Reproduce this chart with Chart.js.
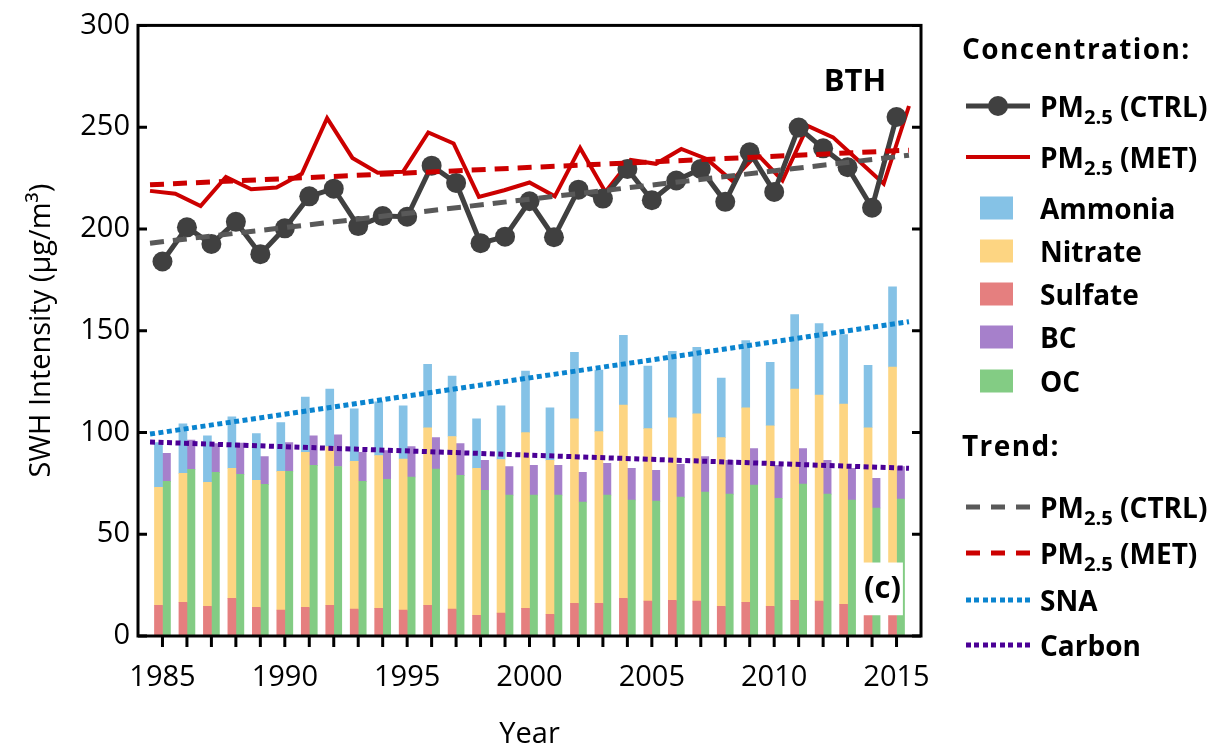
<!DOCTYPE html>
<html>
<head>
<meta charset="utf-8">
<script src="https://cdn.jsdelivr.net/npm/chart.js@4.4.1/dist/chart.umd.min.js"></script>
<style>
  html, body { margin: 0; padding: 0; background: #fff; }
  #wrap { position: relative; width: 1226px; height: 752px; overflow: hidden; }
  #c { position: absolute; left: 0; top: 0; }
  #legend { position: absolute; left: 0; top: 0; width: 1226px; height: 752px; pointer-events: none;
            font-family: 'Open Sans', sans-serif; font-weight: 700; font-size: 28px; color: #000; }
  #legend .t { position: absolute; transform: translateY(-50%); white-space: nowrap; line-height: 1; }
  #legend .h { letter-spacing: 1.4px; }
  #legend .s { position: absolute; transform: translateY(-50%); }
  #legend sub { font-size: 0.72em; vertical-align: -0.35em; line-height: 0; }
</style>
</head>
<body>
<div id="wrap">
  <canvas id="c" width="1226" height="752"></canvas>
  <div id="legend"></div>
</div>
<script>
// ---- datos
const years = [1985,1986,1987,1988,1989,1990,1991,1992,1993,1994,1995,1996,1997,1998,1999,
               2000,2001,2002,2003,2004,2005,2006,2007,2008,2009,2010,2011,2012,2013,2014,2015];

const pmCtrl = [184.0,200.8,192.6,203.5,187.6,200.3,216.0,219.8,201.4,206.3,206.0,231.1,222.6,193.0,196.2,
                213.6,195.9,219.3,214.9,229.5,214.1,223.8,229.5,213.3,237.7,218.2,249.8,239.6,230.3,210.4,255.0];
const pmMet  = [218.7,217.3,211.2,225.5,219.5,220.3,227.1,254.4,234.9,227.6,228.1,247.4,242.0,215.7,219.0,
                222.8,216.0,239.8,218.2,233.9,232.0,239.3,234.4,223.8,236.8,223.8,250.6,245.0,233.6,222.2,260.4];

const sulfate = [15.1,16.6,14.6,18.5,14.1,12.7,14.1,15.1,13.2,13.6,12.7,15.1,13.2,10.2,11.2,
                 13.6,10.7,16.1,16.1,18.5,17.1,17.5,17.1,14.6,16.6,14.6,17.5,17.1,15.6,12.0,12.5];
const nitrate = [58.0,63.3,60.9,63.9,62.4,68.2,76.1,78.0,72.6,75.1,74.2,87.2,84.8,72.2,75.5,
                 86.3,75.6,90.6,84.3,95.0,84.8,89.7,92.1,82.9,95.5,88.7,103.8,101.3,98.4,90.3,119.6];
const ammonia = [21.9,24.4,22.9,25.3,22.9,23.9,27.2,28.2,25.8,26.3,26.2,31.2,29.7,24.3,26.4,
                 30.2,25.8,32.7,30.2,34.2,30.7,32.7,32.6,29.2,33.1,31.2,36.6,35.1,34.1,30.7,39.4];
const oc      = [76.0,81.9,80.4,79.4,74.5,80.9,83.8,83.3,76.0,77.0,78.1,82.0,78.9,71.6,69.2,
                 69.2,69.2,65.8,69.2,66.8,66.3,68.2,70.7,69.7,74.1,67.7,74.6,69.7,66.8,62.9,67.3];
const bc      = [13.7,14.4,14.1,15.4,13.7,14.1,14.6,15.6,14.2,14.1,15.0,15.5,15.6,14.7,14.1,
                 14.6,14.6,14.6,15.6,15.6,15.1,16.1,17.5,16.6,18.0,16.1,17.5,16.6,15.6,14.6,16.0];

// tendencias (extremos)
const trendYears  = [1985, 2015];
const trendCtrl   = [193.0, 236.2];
const trendMet    = [221.7, 238.7];
const trendSna    = [99.2, 154.4];
const trendCarbon = [95.3, 82.4];

const FONT = "'Open Sans', sans-serif";
const xy = (xs, ys) => xs.map((x, i) => ({ x, y: ys[i] }));

function barDs(label, data, color, stack){
  return { type: 'bar', label, data: xy(years, data), backgroundColor: color, stack,
           xAxisID: 'x', yAxisID: 'y', order: 10, borderWidth: 0, barThickness: 8 };
}
function lineDs(label, xs, ys, color, extra){
  return Object.assign({ type: 'line', label, data: xy(xs, ys), borderColor: color, backgroundColor: color,
           borderWidth: 5, pointRadius: 0, tension: 0, fill: false, xAxisID: 'x2', yAxisID: 'y2' }, extra);
}

// marco, ticks y etiquetas
const framePlugin = {
  id: 'frame',
  afterDraw(chart){
    const { ctx, chartArea: a, scales: { x, y } } = chart;
    ctx.save();
    // caja (c)
    const bx0 = x.getPixelForValue(2013.6), bx1 = x.getPixelForValue(2015.26);
    const by0 = y.getPixelForValue(36.1),   by1 = y.getPixelForValue(10.2);
    ctx.fillStyle = '#fff';
    ctx.fillRect(bx0, by0, bx1 - bx0, by1 - by0);
    ctx.fillStyle = '#000';
    ctx.textAlign = 'center'; ctx.textBaseline = 'middle';
    ctx.font = `700 31px ${FONT}`;
    ctx.fillText('(c)', (bx0 + bx1) / 2, (by0 + by1) / 2);
    // BTH
    ctx.fillText('BTH', x.getPixelForValue(2013.3), y.getPixelForValue(272));
    // marco
    ctx.strokeStyle = '#000'; ctx.lineWidth = 3;
    ctx.strokeRect(a.left, a.top, a.right - a.left, a.bottom - a.top);
    ctx.beginPath();
    y.ticks.forEach(t => {
      const py = y.getPixelForValue(t.value);
      ctx.moveTo(a.left, py);  ctx.lineTo(a.left + 9, py);
      ctx.moveTo(a.right, py); ctx.lineTo(a.right - 9, py);
    });
    years.forEach(yr => {
      const px = x.getPixelForValue(yr);
      ctx.moveTo(px, a.bottom); ctx.lineTo(px, a.bottom + 11);
    });
    ctx.stroke();
    ctx.restore();
  }
};

new Chart(document.getElementById('c'), {
  type: 'bar',
  data: {
    datasets: [
      lineDs('PM2.5 (CTRL) trend', trendYears, trendCtrl, '#595959', { borderDash: [14, 9], order: 3 }),
      lineDs('PM2.5 (MET) trend', trendYears, trendMet, '#cc0000', { borderDash: [14, 9], order: 2 }),
      lineDs('SNA', trendYears, trendSna, '#0a84cf', { borderDash: [5, 3.5], order: 1 }),
      lineDs('Carbon', trendYears, trendCarbon, '#4b0096', { borderDash: [5, 3.5], order: 0 }),
      lineDs('PM2.5 (MET)', years, pmMet, '#cc0000', { borderWidth: 4, order: 5 }),
      lineDs('PM2.5 (CTRL)', years, pmCtrl, '#404040', { xAxisID: 'x', pointRadius: 10, pointBorderWidth: 0,
             pointBackgroundColor: '#404040', order: 4 }),
      barDs('Sulfate', sulfate, '#e57f7f', 'sna'),
      barDs('Nitrate', nitrate, '#fdd582', 'sna'),
      barDs('Ammonia', ammonia, '#85c2e6', 'sna'),
      barDs('OC', oc, '#83cc84', 'carbon'),
      barDs('BC', bc, '#a680cb', 'carbon')
    ]
  },
  options: {
    responsive: false,
    animation: false,
    layout: { padding: { top: 21, right: 305, bottom: 0, left: 0 } },
    plugins: { legend: { display: false }, tooltip: { enabled: false } },
    scales: {
      x: {
        type: 'linear', min: 1984, max: 2016, offset: false, stacked: true,
        grid: { display: false, drawTicks: false }, border: { display: false },
        ticks: { stepSize: 5, includeBounds: false, padding: 24, color: '#000',
                 font: { family: FONT, size: 29 }, callback: v => String(v), maxRotation: 0 },
        title: { display: true, text: 'Year', color: '#000', font: { family: FONT, size: 29 },
                 padding: { top: 0, bottom: 0 } },
        afterFit: s => { s.height = 116; }
      },
      x2: { type: 'linear', display: false, offset: false, min: 1984.525, max: 2015.475 },
      y: {
        min: 0, max: 300, stacked: true,
        grid: { display: false, drawTicks: false }, border: { display: false },
        ticks: { stepSize: 50, padding: 8, color: '#000', font: { family: FONT, size: 29 } },
        title: { display: true, text: 'SWH Intensity (μg/m³)', color: '#000',
                 font: { family: FONT, size: 29 }, padding: { top: 24, bottom: 0 } },
        afterFit: s => { s.width = 138; }
      },
      y2: { display: false, min: 0, max: 300 }
    }
  },
  plugins: [framePlugin]
});

// ---- leyenda (HTML por los subíndices)
const PM = n => `PM<sub>2.5</sub> (${n})`;
const legendRows = [
  { head: 'Concentration:', y: 48 },
  { text: PM('CTRL'), y: 106, sw: 'line', color: '#404040', dot: true },
  { text: PM('MET'),  y: 157, sw: 'line', color: '#cc0000', h: 4 },
  { text: 'Ammonia',  y: 208, sw: 'box',  color: '#85c2e6' },
  { text: 'Nitrate',  y: 251, sw: 'box',  color: '#fdd582' },
  { text: 'Sulfate',  y: 294, sw: 'box',  color: '#e57f7f' },
  { text: 'BC',       y: 337, sw: 'box',  color: '#a680cb' },
  { text: 'OC',       y: 381, sw: 'box',  color: '#83cc84' },
  { head: 'Trend:', y: 445 },
  { text: PM('CTRL'), y: 507, sw: 'dash', color: '#595959' },
  { text: PM('MET'),  y: 553, sw: 'dash', color: '#cc0000' },
  { text: 'SNA',      y: 600, sw: 'dot',  color: '#0a84cf' },
  { text: 'Carbon',   y: 645, sw: 'dot',  color: '#4b0096' }
];
const leg = document.getElementById('legend');
let html = '';
for (const r of legendRows) {
  if (r.head) { html += `<div class="t h" style="left:962px;top:${r.y}px">${r.head}</div>`; continue; }
  if (r.sw === 'line') {
    html += `<div class="s" style="left:966px;top:${r.y}px;width:64px;height:${r.h || 5}px;background:${r.color}"></div>`;
    if (r.dot) html += `<div class="s" style="left:988px;top:${r.y}px;width:20px;height:20px;border-radius:50%;background:${r.color}"></div>`;
  } else if (r.sw === 'box') {
    html += `<div class="s" style="left:980px;top:${r.y}px;width:33px;height:23px;background:${r.color}"></div>`;
  } else if (r.sw === 'dash') {
    html += `<div class="s" style="left:966px;top:${r.y}px;width:64px;height:5px;background:repeating-linear-gradient(90deg,${r.color} 0 14px,transparent 14px 25px)"></div>`;
  } else if (r.sw === 'dot') {
    html += `<div class="s" style="left:966px;top:${r.y}px;width:64px;height:5px;background:repeating-linear-gradient(90deg,${r.color} 0 5px,transparent 5px 8.5px)"></div>`;
  }
  html += `<div class="t" style="left:1040px;top:${r.y}px">${r.text}</div>`;
}
leg.innerHTML = html;
</script>
</body>
</html>
